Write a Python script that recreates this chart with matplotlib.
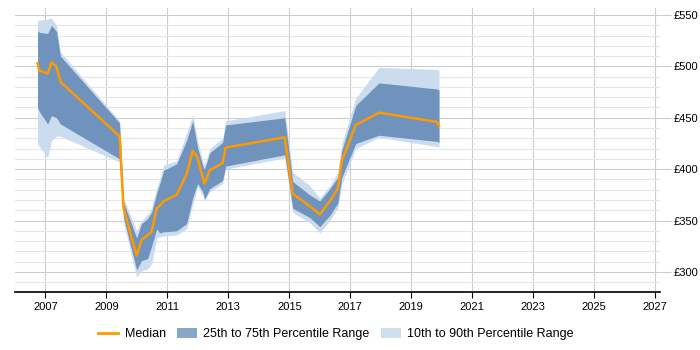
import matplotlib
matplotlib.use("Agg")
import matplotlib.pyplot as plt
import matplotlib.ticker as ticker
from matplotlib.lines import Line2D
from matplotlib.patches import Patch

# sampled dates (decimal years) and percentile values in GBP
dates = [2006.74, 2006.80, 2007.07, 2007.20, 2007.36, 2007.49, 2009.43, 2009.56,
         2009.99, 2010.15, 2010.35, 2010.48, 2010.65, 2010.74, 2010.88, 2011.30,
         2011.63, 2011.83, 2011.99, 2012.16, 2012.22, 2012.39, 2012.81, 2012.91,
         2014.85, 2015.11, 2015.67, 2016.00, 2016.33, 2016.59, 2016.72, 2017.18,
         2017.94, 2019.84, 2019.91]
median = [503, 496, 493, 504, 500, 485, 432, 362,
          316, 331, 336, 339, 362, 364, 369, 375,
          395, 418, 411, 392, 386, 399, 406, 421,
          431, 376, 364, 356, 369, 381, 408, 443,
          455, 446, 442]
p75 = [535, 533, 532, 540, 534, 510, 445, 368,
       333, 347, 352, 358, 377, 385, 399, 405,
       428, 447, 421, 403, 400, 416, 426, 443,
       450, 388, 375, 369, 381, 392, 418, 462,
       484, 478, 477]
p25 = [460, 456, 444, 452, 450, 444, 410, 353,
       302, 311, 313, 325, 342, 338, 339, 340,
       347, 372, 386, 378, 371, 381, 389, 403,
       414, 362, 353, 344, 355, 367, 392, 425,
       433, 427, 426]
p90 = [545, 545, 546, 547, 540, 514, 447, 372,
       340, 350, 356, 362, 382, 390, 404, 408,
       435, 453, 428, 408, 404, 420, 430, 447,
       457, 397, 384, 372, 384, 397, 425, 469,
       499, 497, 496]
p10 = [425, 422, 411, 428, 432, 432, 407, 348,
       295, 301, 303, 308, 333, 334, 335, 336,
       342, 365, 383, 374, 369, 378, 386, 400,
       411, 358, 348, 338, 350, 362, 385, 420,
       431, 422, 421]

year_ticks = list(range(2007, 2028, 2))

plt.rcParams['font.family'] = ['Liberation Sans', 'DejaVu Sans']
fig = plt.figure(figsize=(7, 3.5), dpi=100)
ax = fig.add_axes([15/700, 1 - 292/350, (660 - 15)/700, (292 - 8)/350])

light = '#cbdcee'
dark = '#6f93bd'
ax.fill_between(dates, p10, p90, color=light, lw=0, zorder=2)
ax.fill_between(dates, p25, p75, color=dark, lw=0, zorder=3)
ax.plot(dates, median, color='#ff9900', lw=1.8, zorder=4)

ax.set_xlim(2006.0, 2027.16)
ax.set_ylim(280.5, 556.8)
ax.xaxis.set_major_locator(ticker.FixedLocator(year_ticks))
ax.yaxis.set_major_locator(ticker.MultipleLocator(50))
ax.yaxis.set_minor_locator(ticker.MultipleLocator(10))
ax.yaxis.set_major_formatter(ticker.FuncFormatter(lambda v, p: "£%d" % v))
ax.yaxis.tick_right()

ax.grid(True, which='major', axis='both', color='#cccccc', lw=0.8, zorder=0)
ax.grid(True, which='minor', axis='y', color='#e6e6e6', lw=0.8, zorder=0)
ax.set_axisbelow(True)

for s in ['top', 'left', 'right']:
    ax.spines[s].set_visible(False)
ax.spines['bottom'].set_color('black')
ax.spines['bottom'].set_linewidth(1.2)

ax.tick_params(axis='x', length=4, color='black', labelsize=8, pad=3)
ax.tick_params(axis='y', which='major', length=8, color='#cccccc', labelsize=8, pad=2)
ax.tick_params(axis='y', which='minor', length=0)

handles = [Line2D([], [], color='#ff9900', lw=2),
           Patch(facecolor='#88a6c8', edgecolor='none'),
           Patch(facecolor='#cfdeee', edgecolor='none')]
labels = ['Median', '25th to 75th Percentile Range', '10th to 90th Percentile Range']
fig.legend(handles, labels, loc='center', bbox_to_anchor=(336/700, 1 - 334/350), ncol=3,
           frameon=False, fontsize=9, handlelength=1.6, handleheight=0.9,
           columnspacing=0.9, handletextpad=0.5)

fig.savefig('out.png', dpi=100)
